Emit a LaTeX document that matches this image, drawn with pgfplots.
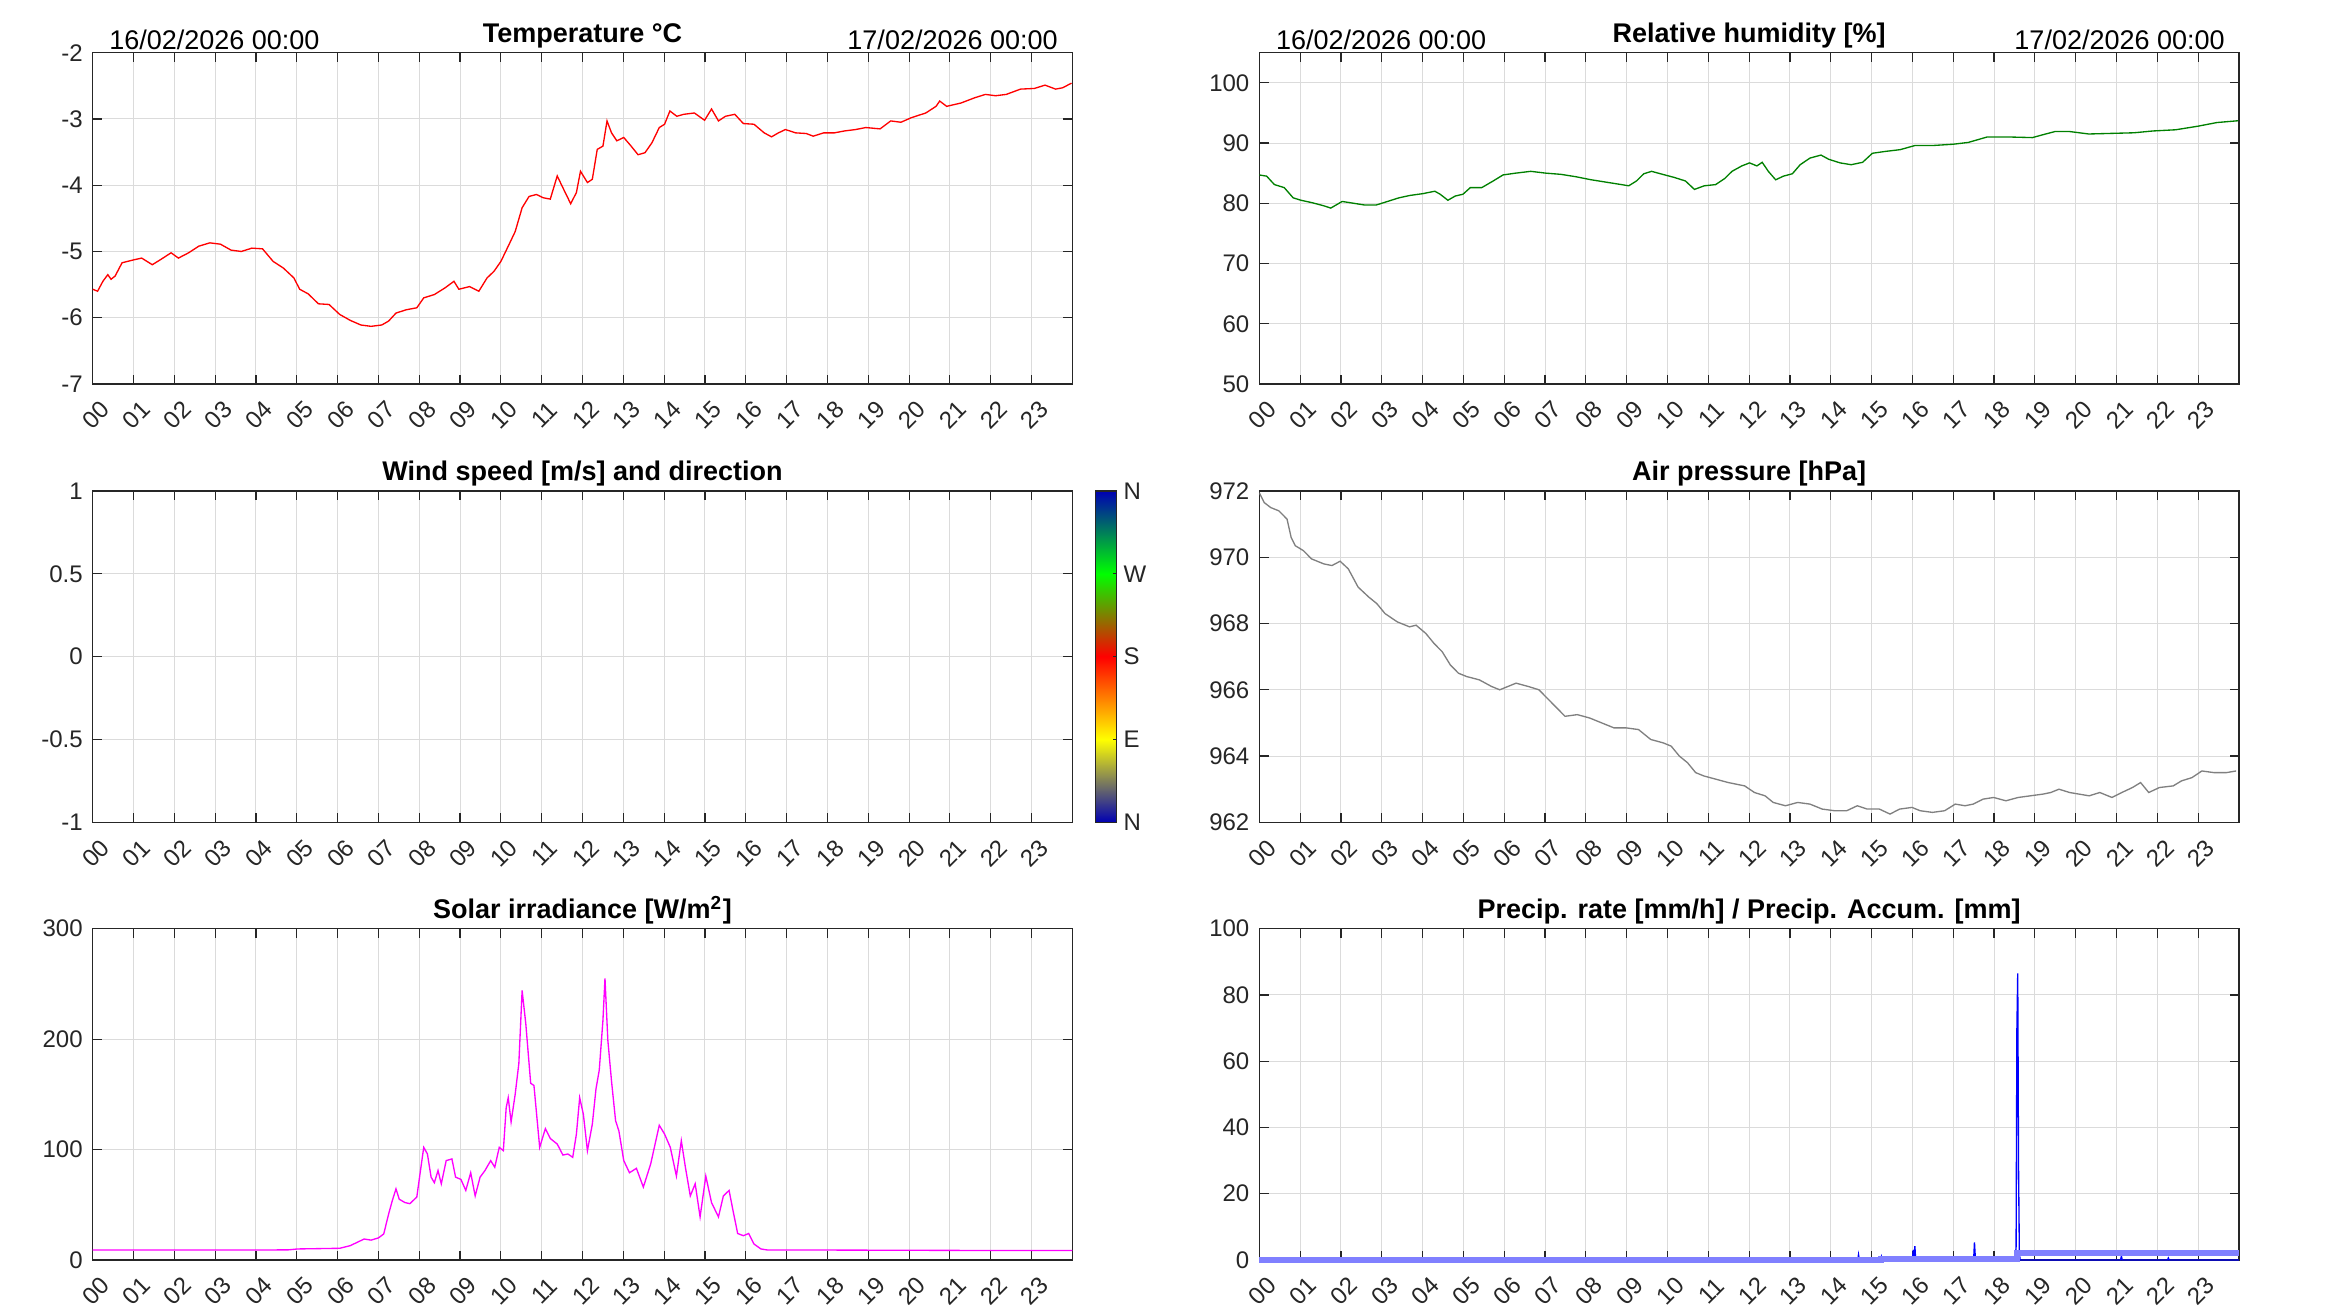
\documentclass[border=0pt]{standalone}
\usepackage{fontspec}
\setmainfont{Liberation Sans}
\usepackage{pgfplots}
\pgfplotsset{compat=1.18}
\definecolor{axgray}{rgb}{0.15,0.15,0.15}
\definecolor{gridgray}{rgb}{0.86,0.86,0.86}
\definecolor{accblue}{rgb}{0.5,0.5,1}
\definecolor{mgreen}{rgb}{0,0.5,0}
\definecolor{pgray}{rgb}{0.5,0.5,0.5}
\definecolor{mmag}{rgb}{1,0,1}
\definecolor{mblue}{rgb}{0,0,1}
\definecolor{mred}{rgb}{1,0,0}
\newcommand\tickfont{\fontsize{7.2}{8.6}\selectfont}
\newcommand\titlefont{\fontsize{8.1}{9.7}\selectfont\bfseries}
\newcommand\datefont{\fontsize{8.1}{9.7}\selectfont}
\pgfplotsset{
  colormap={wind}{rgb=(0,0,0.7) rgb=(1,1,0) rgb=(1,0,0) rgb=(0,1,0) rgb=(0,0,0.7)},
  meteo/.style={
    scale only axis, width=293.9pt, height=99.4pt,
    xmin=0, xmax=24, xtick={0,1,...,23},
    xticklabels={00,01,02,03,04,05,06,07,08,09,10,11,12,13,14,15,16,17,18,19,20,21,22,23},
    tick align=inside, tick pos=both,
    major tick length=2.8pt,
    every tick/.style={axgray, line width=0.35pt},
    grid=major, major grid style={gridgray, line width=0.3pt},
    axis line style={axgray, line width=0.45pt},
    tick label style={font=\tickfont, text=axgray},
    yticklabel style={anchor=east, inner sep=0pt, xshift=-2.8pt},
    xticklabel style={inner sep=0pt, xshift=0.9pt, yshift=-9.3pt, rotate=45, anchor=center},
    every axis title shift=0pt,
    title style={font=\titlefont, at={(0.5,1)}, anchor=base, yshift=3pt, inner sep=0pt},
    scaled y ticks=false,
  },
}
\begin{document}
\begin{tikzpicture}
\path[use as bounding box] (0,0) rectangle (699.9pt,393.9pt);

% ---------------- Temperature ----------------
\begin{axis}[meteo, at={(27.81pt,278.7pt)}, anchor=south west,
  ymin=-7, ymax=-2, ytick={-7,-6,-5,-4,-3,-2}, yticklabels={-7,-6,-5,-4,-3,-2},
  title={Temperature °C}]
\addplot[mred, line width=0.4pt] coordinates {
(0,-5.57)(0.12,-5.6)(0.25,-5.45)(0.37,-5.35)(0.45,-5.42)(0.55,-5.37)(0.72,-5.17)(0.98,-5.13)(1.2,-5.10)(1.46,-5.2)(1.67,-5.12)(1.92,-5.02)(2.1,-5.1)(2.35,-5.02)(2.6,-4.92)(2.87,-4.87)(3.13,-4.89)(3.39,-4.98)(3.64,-5.0)(3.9,-4.95)(4.16,-4.96)(4.42,-5.15)(4.67,-5.25)(4.93,-5.4)(5.07,-5.57)(5.28,-5.64)(5.53,-5.79)(5.79,-5.8)(6.05,-5.95)(6.31,-6.04)(6.57,-6.11)(6.82,-6.13)(7.08,-6.11)(7.25,-6.05)(7.43,-5.93)(7.68,-5.88)(7.94,-5.85)(8.11,-5.70)(8.37,-5.65)(8.63,-5.55)(8.85,-5.45)(8.97,-5.57)(9.23,-5.53)(9.46,-5.6)(9.66,-5.4)(9.83,-5.3)(10.0,-5.15)(10.18,-4.92)(10.35,-4.7)(10.52,-4.34)(10.69,-4.17)(10.87,-4.14)(11.04,-4.19)(11.21,-4.21)(11.38,-3.86)(11.52,-4.04)(11.71,-4.28)(11.85,-4.11)(11.95,-3.79)(12.12,-3.96)(12.24,-3.91)(12.36,-3.46)(12.5,-3.41)(12.6,-3.03)(12.71,-3.21)(12.84,-3.33)(13.01,-3.28)(13.19,-3.41)(13.36,-3.54)(13.53,-3.51)(13.7,-3.36)(13.88,-3.13)(14.01,-3.08)(14.14,-2.88)(14.31,-2.96)(14.48,-2.93)(14.74,-2.91)(14.99,-3.02)(15.16,-2.85)(15.33,-3.03)(15.5,-2.96)(15.73,-2.93)(15.94,-3.07)(16.2,-3.08)(16.45,-3.21)(16.63,-3.27)(16.8,-3.21)(16.97,-3.16)(17.22,-3.21)(17.48,-3.22)(17.65,-3.26)(17.91,-3.21)(18.17,-3.21)(18.43,-3.18)(18.69,-3.16)(18.94,-3.13)(19.29,-3.15)(19.55,-3.03)(19.8,-3.05)(20.06,-2.98)(20.41,-2.91)(20.66,-2.81)(20.75,-2.73)(20.92,-2.81)(21.27,-2.76)(21.61,-2.68)(21.87,-2.63)(22.12,-2.65)(22.38,-2.63)(22.73,-2.55)(23.07,-2.54)(23.33,-2.49)(23.59,-2.55)(23.76,-2.53)(23.98,-2.46)
};
\end{axis}
\node[font=\datefont, anchor=base west, inner sep=0pt] at (32.6pt,379.1pt) {16/02/2026 00:00};
\node[font=\datefont, anchor=base east, inner sep=0pt] at (317.5pt,379.1pt) {17/02/2026 00:00};

% ---------------- Humidity ----------------
\begin{axis}[meteo, at={(377.79pt,278.7pt)}, anchor=south west,
  ymin=50, ymax=105, ytick={50,60,70,80,90,100}, yticklabels={50,60,70,80,90,100},
  title={Relative humidity [\%]}]
\addplot[mgreen, line width=0.4pt] coordinates {
(0,84.7)(0.18,84.5)(0.37,83.1)(0.61,82.6)(0.83,80.9)(1.02,80.5)(1.29,80.1)(1.57,79.6)(1.75,79.2)(2.03,80.3)(2.31,80.0)(2.59,79.7)(2.86,79.7)(3.14,80.3)(3.42,80.9)(3.69,81.3)(4.01,81.6)(4.30,82.0)(4.43,81.5)(4.62,80.5)(4.8,81.2)(4.99,81.5)(5.17,82.6)(5.45,82.6)(5.73,83.7)(5.97,84.7)(6.28,85.0)(6.65,85.3)(7.02,85.0)(7.39,84.8)(7.76,84.4)(8.13,83.9)(8.5,83.5)(8.87,83.1)(9.05,82.9)(9.24,83.7)(9.42,84.9)(9.61,85.3)(9.88,84.8)(10.16,84.3)(10.44,83.7)(10.66,82.3)(10.9,82.9)(11.18,83.1)(11.4,84.1)(11.58,85.3)(11.82,86.2)(12.01,86.7)(12.19,86.2)(12.32,86.8)(12.47,85.3)(12.65,83.9)(12.84,84.5)(13.06,84.9)(13.25,86.4)(13.49,87.5)(13.76,88.0)(13.95,87.3)(14.23,86.7)(14.5,86.4)(14.78,86.8)(15.02,88.3)(15.33,88.6)(15.7,88.9)(16.07,89.6)(16.53,89.6)(17.0,89.8)(17.37,90.1)(17.83,91.0)(18.38,91.0)(18.94,90.9)(19.21,91.4)(19.49,91.9)(19.86,91.9)(20.32,91.5)(20.88,91.6)(21.43,91.7)(21.89,92.0)(22.45,92.2)(23.0,92.8)(23.46,93.4)(23.98,93.7)
};
\end{axis}
\node[font=\datefont, anchor=base west, inner sep=0pt] at (382.6pt,379.1pt) {16/02/2026 00:00};
\node[font=\datefont, anchor=base east, inner sep=0pt] at (667.6pt,379.1pt) {17/02/2026 00:00};

% ---------------- Wind ----------------
\begin{axis}[meteo, at={(27.81pt,147.2pt)}, anchor=south west,
  ymin=-1, ymax=1, ytick={-1,-0.5,0,0.5,1}, yticklabels={-1,-0.5,0,0.5,1},
  title={Wind speed [m/s] and direction},
  colormap name=wind, point meta min=0, point meta max=360,
  colorbar,
  colorbar style={at={(parent axis.north east)}, anchor=north west, xshift=-1.64pt,
    scale only axis, width=6.36pt, height=99.4pt,
    ytick={0,90,180,270,360}, yticklabels={N,E,S,W,N},
    ytick pos=right, yticklabel pos=right, tick align=inside,
    major tick length=1.2pt, every tick/.style={axgray, line width=0.35pt},
    axis line style={axgray, line width=0.45pt},
    yticklabel style={anchor=west, inner sep=0pt, xshift=1.9pt, font=\tickfont, text=axgray},
  }]
\end{axis}

% ---------------- Pressure ----------------
\begin{axis}[meteo, at={(377.79pt,147.2pt)}, anchor=south west,
  ymin=962, ymax=972, ytick={962,964,966,968,970,972}, yticklabels={962,964,966,968,970,972},
  title={Air pressure [hPa]}]
\addplot[pgray, line width=0.4pt] coordinates {
(0,971.95)(0.12,971.65)(0.28,971.5)(0.48,971.4)(0.68,971.15)(0.78,970.6)(0.88,970.35)(1.08,970.2)(1.28,969.95)(1.58,969.8)(1.78,969.75)(1.98,969.88)(2.18,969.65)(2.42,969.1)(2.68,968.8)(2.88,968.6)(3.08,968.3)(3.38,968.05)(3.68,967.9)(3.84,967.95)(4.08,967.7)(4.28,967.4)(4.48,967.15)(4.68,966.75)(4.88,966.5)(5.08,966.4)(5.39,966.3)(5.69,966.1)(5.89,966.0)(6.09,966.1)(6.29,966.2)(6.59,966.1)(6.85,966.0)(7.09,965.7)(7.29,965.45)(7.49,965.2)(7.79,965.25)(8.09,965.15)(8.39,965.0)(8.69,964.85)(8.99,964.85)(9.29,964.8)(9.59,964.5)(9.89,964.4)(10.09,964.3)(10.29,964.0)(10.49,963.8)(10.69,963.5)(10.89,963.4)(11.19,963.3)(11.49,963.2)(11.89,963.1)(12.13,962.9)(12.39,962.8)(12.59,962.6)(12.89,962.5)(13.19,962.6)(13.49,962.55)(13.79,962.4)(14.09,962.35)(14.39,962.35)(14.65,962.5)(14.89,962.4)(15.19,962.4)(15.45,962.25)(15.69,962.4)(15.99,962.45)(16.19,962.35)(16.49,962.3)(16.79,962.35)(17.05,962.55)(17.29,962.5)(17.49,962.55)(17.73,962.7)(17.99,962.75)(18.29,962.65)(18.59,962.75)(18.89,962.8)(19.19,962.85)(19.39,962.9)(19.59,963.0)(19.85,962.9)(20.09,962.85)(20.33,962.8)(20.59,962.9)(20.89,962.75)(21.13,962.9)(21.39,963.05)(21.59,963.2)(21.79,962.9)(22.05,963.05)(22.39,963.1)(22.59,963.25)(22.85,963.35)(23.09,963.55)(23.39,963.5)(23.69,963.5)(23.93,963.55)
};
\end{axis}

% ---------------- Solar ----------------
\begin{axis}[meteo, at={(27.81pt,15.9pt)}, anchor=south west,
  ymin=0, ymax=300, ytick={0,100,200,300}, yticklabels={0,100,200,300},
  title={Solar irradiance [W/m\textsuperscript{2}]}]
\addplot[mmag, line width=0.4pt] coordinates {
(0,9)(2,9)(4,9)(4.8,9.2)(5.02,10)(6.05,10.6)(6.31,13)(6.48,16)(6.65,19)(6.82,18)(7.0,20)(7.13,23.6)(7.25,41.7)(7.34,53.8)(7.43,64.4)(7.51,55)(7.65,52)(7.77,51)(7.94,57)(8.03,81)(8.11,102)(8.2,96)(8.29,75)(8.37,70)(8.46,81)(8.54,69)(8.66,90)(8.8,91.5)(8.89,75)(9.02,73)(9.14,63)(9.26,79)(9.37,58)(9.49,75)(9.61,81)(9.75,90)(9.85,84)(9.96,102)(10.06,99)(10.13,138)(10.18,147)(10.25,125)(10.35,150)(10.44,178)(10.52,244)(10.61,214)(10.73,160)(10.81,158)(10.95,102)(11.09,119)(11.21,110)(11.38,105)(11.52,95)(11.64,96)(11.76,93)(11.85,114)(11.93,147)(12.02,132)(12.12,99)(12.24,123)(12.33,155)(12.41,172)(12.5,217)(12.55,255)(12.62,199)(12.71,162)(12.81,126)(12.89,117)(13.01,90)(13.15,79)(13.32,83)(13.49,66)(13.67,87)(13.88,122)(14.01,114)(14.15,102)(14.3,76)(14.42,108)(14.52,84)(14.64,58)(14.76,69)(14.88,39)(15.02,76)(15.16,52)(15.33,39)(15.45,58)(15.59,63)(15.68,46)(15.8,24)(15.94,22)(16.07,24)(16.2,14.5)(16.37,10)(16.54,9)(18,9)(20,8.8)(22,8.6)(24,8.6)
};
\end{axis}

% ---------------- Precipitation ----------------
\begin{axis}[meteo, at={(377.79pt,15.9pt)}, anchor=south west,
  ymin=0, ymax=100, ytick={0,20,40,60,80,100}, yticklabels={0,20,40,60,80,100},
  title={Precip. rate [mm/h] / Precip. Accum. [mm]}, clip=false]
\addplot[mblue, line width=0.4pt] coordinates {
(0,0)(14.66,0)(14.68,1.6)(14.70,0)(15.22,0)(15.24,1.0)(15.26,0)(16.0,0)(16.02,3.0)(16.04,0.5)(16.06,4.2)(16.08,0)(17.5,0)(17.52,5.3)(17.54,1)(17.56,0)(18.52,0)(18.54,4)(18.56,70)(18.58,86.5)(18.60,28)(18.62,2)(18.64,0)(21.1,0)(21.12,1.2)(21.14,0)(22.25,0)(22.27,0.6)(22.29,0)(24,0)
};
\addplot[accblue, line width=1.8pt] coordinates {
(0,0)(15.24,0)(15.24,0.3)(18.57,0.3)(18.57,2.0)(24,2.0)
};
\end{axis}
\end{tikzpicture}
\end{document}
